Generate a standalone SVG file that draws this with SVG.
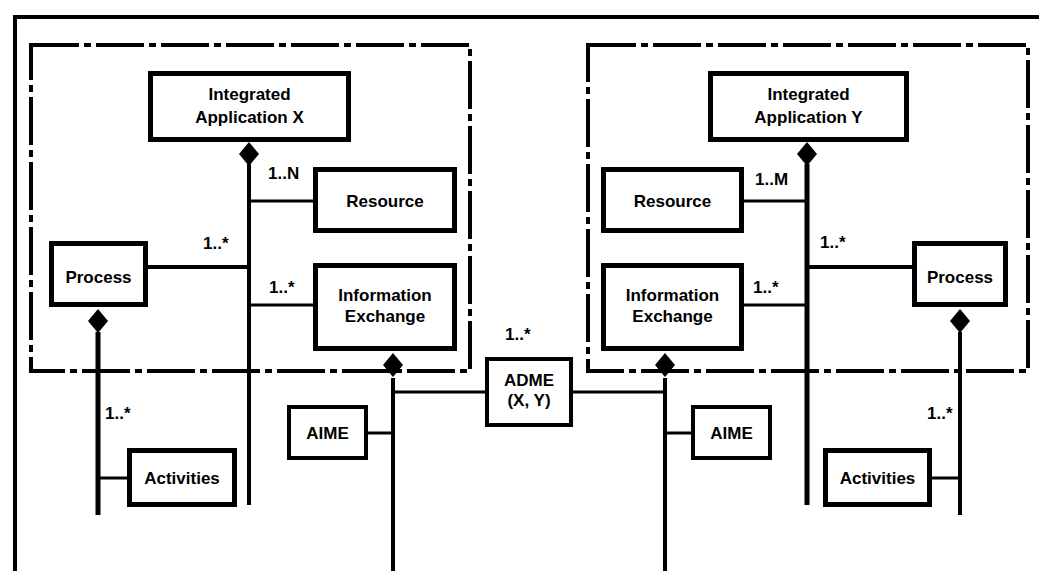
<svg xmlns="http://www.w3.org/2000/svg" xmlns:xlink="http://www.w3.org/1999/xlink" width="1039" height="571" viewBox="0 0 1039 571">
<style>
  .box { fill: #fff; stroke: #000; stroke-width: 5; }
  .sbox { fill: #fff; stroke: #000; stroke-width: 4; }
  .pkg { fill: none; stroke: #000; stroke-width: 4; stroke-dasharray: 48 5 7 5; }
  .frame { fill: none; stroke: #000; stroke-width: 4; }
  .ln { stroke: #000; fill: none; }
  .t { font-family: "Liberation Sans", Arial, sans-serif; font-weight: bold; font-size: 17px; fill: #000; text-anchor: middle; }
  .lbl { font-family: "Liberation Sans", Arial, sans-serif; font-weight: bold; font-size: 17px; fill: #000; }
</style>
<defs>
  <path id="dia" d="M0,0 L10,12 L0,24 L-10,12 Z" fill="#000"/>
</defs>
<rect width="1039" height="571" fill="#fff"/>
<rect class="frame" x="15" y="17" width="1100" height="700"/>
<rect class="pkg" x="31" y="45" width="439" height="326"/>
<rect class="pkg" x="588" y="45" width="440" height="326"/>

<g id="connectors">
  <line class="ln" stroke-width="4" x1="249" y1="164" x2="249" y2="505"/>
  <line class="ln" stroke-width="5" x1="807" y1="164" x2="807" y2="505"/>
  <line class="ln" stroke-width="5" x1="98" y1="332" x2="98" y2="515"/>
  <line class="ln" stroke-width="4" x1="960" y1="332" x2="960" y2="515"/>
  <line class="ln" stroke-width="4" x1="393" y1="378" x2="393" y2="571"/>
  <line class="ln" stroke-width="4" x1="665" y1="378" x2="665" y2="571"/>
  <line class="ln" stroke-width="3" x1="249" y1="201" x2="313" y2="201"/>
  <line class="ln" stroke-width="3" x1="744" y1="201" x2="807" y2="201"/>
  <line class="ln" stroke-width="4" x1="148" y1="267" x2="249" y2="267"/>
  <line class="ln" stroke-width="4" x1="807" y1="267" x2="912" y2="267"/>
  <line class="ln" stroke-width="3" x1="249" y1="305" x2="313" y2="305"/>
  <line class="ln" stroke-width="3" x1="744" y1="305" x2="807" y2="305"/>
  <line class="ln" stroke-width="3" x1="98" y1="478" x2="127" y2="478"/>
  <line class="ln" stroke-width="3" x1="932" y1="478" x2="960" y2="478"/>
  <line class="ln" stroke-width="3" x1="368" y1="433" x2="393" y2="433"/>
  <line class="ln" stroke-width="3" x1="665" y1="433" x2="691" y2="433"/>
  <line class="ln" stroke-width="3" x1="393" y1="392" x2="485" y2="392"/>
  <line class="ln" stroke-width="3" x1="572" y1="392" x2="665" y2="392"/>
  <use xlink:href="#dia" x="249" y="142"/>
  <use xlink:href="#dia" x="807" y="142"/>
  <use xlink:href="#dia" x="98" y="309"/>
  <use xlink:href="#dia" x="960" y="309"/>
  <use xlink:href="#dia" x="393" y="353"/>
  <use xlink:href="#dia" x="665" y="353"/>
  <text class="lbl" x="268" y="179">1..N</text>
  <text class="lbl" x="203" y="249">1..*</text>
  <text class="lbl" x="269" y="293">1..*</text>
  <text class="lbl" x="105" y="419">1..*</text>
  <text class="lbl" x="755" y="185">1..M</text>
  <text class="lbl" x="820" y="248">1..*</text>
  <text class="lbl" x="753" y="293">1..*</text>
  <text class="lbl" x="927" y="419">1..*</text>
  <text class="lbl" x="505" y="340">1..*</text>
</g>

<g id="app-x">
  <rect class="box" x="150.5" y="73.5" width="198" height="66"/>
  <text class="t" x="249.5" y="100">Integrated</text>
  <text class="t" x="249.5" y="123">Application X</text>
</g>
<g id="app-y">
  <rect class="box" x="710.5" y="73.5" width="196" height="66"/>
  <text class="t" x="808.5" y="100">Integrated</text>
  <text class="t" x="808.5" y="123">Application Y</text>
</g>
<g id="resource-x">
  <rect class="box" x="315.5" y="169.5" width="139" height="61"/>
  <text class="t" x="385" y="207">Resource</text>
</g>
<g id="resource-y">
  <rect class="box" x="603.5" y="169.5" width="138" height="61"/>
  <text class="t" x="672.5" y="207">Resource</text>
</g>
<g id="process-x">
  <rect class="box" x="51.5" y="243.5" width="94" height="61"/>
  <text class="t" x="98.5" y="283">Process</text>
</g>
<g id="process-y">
  <rect class="box" x="914.5" y="243.5" width="91" height="61"/>
  <text class="t" x="960" y="283">Process</text>
</g>
<g id="info-x">
  <rect class="box" x="315.5" y="265.5" width="139" height="83"/>
  <text class="t" x="385" y="301">Information</text>
  <text class="t" x="385" y="322">Exchange</text>
</g>
<g id="info-y">
  <rect class="box" x="603.5" y="265.5" width="138" height="83"/>
  <text class="t" x="672.5" y="301">Information</text>
  <text class="t" x="672.5" y="322">Exchange</text>
</g>
<g id="activities-x">
  <rect class="box" x="129.5" y="450.5" width="105" height="54"/>
  <text class="t" x="182" y="484">Activities</text>
</g>
<g id="activities-y">
  <rect class="box" x="825.5" y="450.5" width="104" height="54"/>
  <text class="t" x="877.5" y="484">Activities</text>
</g>
<g id="aime-x">
  <rect class="sbox" x="289" y="407" width="77" height="51"/>
  <text class="t" x="327.5" y="439">AIME</text>
</g>
<g id="aime-y">
  <rect class="sbox" x="693" y="407" width="77" height="51"/>
  <text class="t" x="731.5" y="439">AIME</text>
</g>
<g id="adme">
  <rect class="sbox" x="487" y="359" width="84" height="66"/>
  <text class="t" x="529" y="386">ADME</text>
  <text class="t" x="529" y="406">(X, Y)</text>
</g>
</svg>
